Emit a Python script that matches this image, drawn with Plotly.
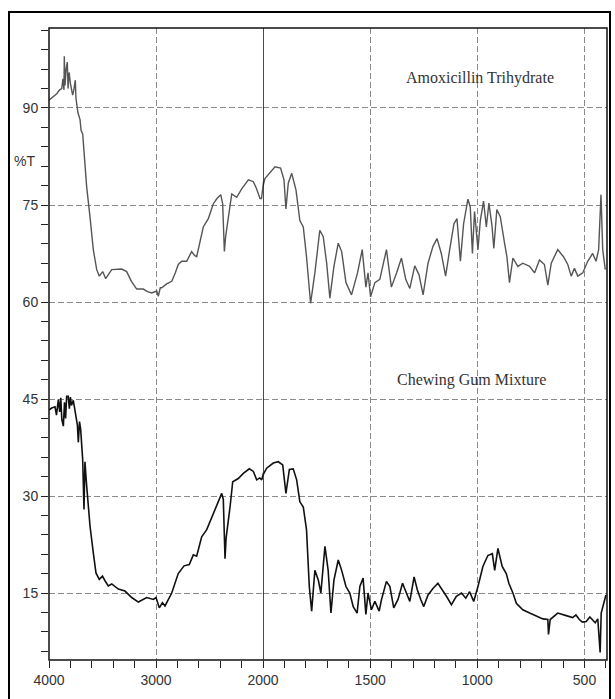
import plotly.graph_objects as go

# ---- data (wavenumber cm-1, %T) ----
amox_wn = [4000, 3960, 3928, 3900, 3881, 3870, 3860, 3857, 3850, 3840, 3829, 3822, 3812, 3800, 3790,
           3779, 3770, 3754, 3748, 3741, 3730, 3710, 3700, 3685, 3670, 3648, 3617, 3586, 3554, 3530,
           3498, 3470, 3414, 3370, 3321, 3274, 3230, 3180, 3119, 3080, 3040, 2993, 2978, 2960, 2947,
           2900, 2853, 2820, 2792, 2760, 2713, 2667, 2640, 2620, 2590, 2558, 2511, 2464, 2430, 2395,
           2377, 2361, 2350, 2339, 2320, 2292, 2246, 2199, 2137, 2090, 2060, 2028, 2014, 1991, 1944,
           1918, 1902, 1893, 1882, 1866, 1846, 1828, 1812, 1797, 1778, 1758, 1735, 1719, 1703, 1688,
           1669, 1649, 1633, 1613, 1587, 1559, 1537, 1520, 1510, 1498, 1478, 1455, 1424, 1401, 1377,
           1354, 1334, 1315, 1292, 1272, 1253, 1230, 1207, 1188, 1168, 1148, 1129, 1109, 1095, 1079,
           1064, 1044, 1033, 1023, 1013, 997, 986, 971, 958, 946, 932, 923, 909, 893, 873,
           862, 850, 834, 811, 788, 756, 733, 710, 687, 671, 655, 625, 598, 578, 562,
           547, 531, 508, 485, 462, 446, 434, 423, 415, 403]
amox_t = [91.2, 91.8, 92.2, 92.8, 93.0, 94.5, 92.8, 98.0, 93.5, 96.0, 97.1, 93.0, 95.5, 93.8, 92.8,
          92.0, 92.6, 94.3, 91.5, 90.2, 89.3, 88.2, 86.5, 86.0, 82.0, 77.8, 73.2, 68.1, 65.0, 64.0,
          64.7, 63.6, 65.0, 65.1, 65.1, 64.7, 63.2, 62.0, 62.0, 61.6, 61.4, 61.7, 60.9, 62.2, 62.2,
          62.8, 63.2, 64.5, 65.8, 66.3, 66.3, 67.8, 67.2, 67.0, 69.5, 71.6, 72.9, 75.2, 76.0, 76.6,
          75.2, 67.8, 70.0, 71.1, 73.5, 76.7, 76.2, 77.5, 78.9, 78.6, 77.5, 76.0, 76.0, 79.1, 80.9,
          80.7, 78.9, 74.4, 78.4, 79.9, 77.3, 72.6, 71.6, 67.0, 59.8, 64.5, 71.1, 70.1, 66.0, 60.6,
          65.5, 69.1, 67.8, 63.0, 61.1, 64.5, 68.1, 62.3, 64.5, 60.8, 63.0, 63.5, 68.1, 62.3, 64.5,
          66.8, 63.5, 62.1, 65.6, 64.2, 61.1, 66.0, 68.6, 69.8, 67.5, 64.0, 68.1, 72.1, 72.9, 66.3,
          72.1, 75.9, 74.7, 67.5, 74.0, 68.1, 72.6, 75.6, 71.6, 75.3, 71.9, 68.3, 74.3, 73.2, 69.1,
          67.0, 63.0, 66.8, 65.5, 66.0, 65.5, 64.5, 66.5, 65.8, 62.6, 66.0, 68.1, 67.0, 65.8, 64.0,
          65.2, 64.0, 64.5, 66.3, 67.5, 66.3, 68.1, 76.6, 68.1, 65.0]

gum_wn = [4000, 3975, 3944, 3930, 3913, 3900, 3890, 3880, 3866, 3855, 3845, 3835, 3820, 3810, 3800,
          3790, 3773, 3760, 3748, 3735, 3726, 3715, 3704, 3695, 3685, 3673, 3664, 3650, 3633, 3617,
          3586, 3561, 3530, 3500, 3477, 3446, 3414, 3352, 3290, 3227, 3165, 3120, 3087, 3025, 3000,
          2969, 2940, 2916, 2853, 2792, 2738, 2689, 2651, 2620, 2573, 2526, 2449, 2386, 2371, 2355,
          2345, 2333, 2308, 2283, 2231, 2184, 2128, 2090, 2059, 2030, 2012, 1983, 1952, 1929, 1908,
          1893, 1877, 1859, 1843, 1828, 1812, 1797, 1784, 1773, 1758, 1742, 1730, 1711, 1696, 1683,
          1669, 1649, 1633, 1613, 1595, 1579, 1561, 1548, 1533, 1520, 1510, 1494, 1478, 1458, 1447,
          1424, 1408, 1390, 1370, 1349, 1331, 1315, 1295, 1280, 1264, 1250, 1230, 1207, 1184, 1163,
          1144, 1121, 1098, 1074, 1054, 1036, 1017, 997, 974, 951, 930, 919, 904, 884, 865,
          853, 834, 818, 788, 756, 725, 694, 671, 668, 660, 625, 585, 555, 540, 524,
          510, 492, 475, 462, 450, 438, 427, 422, 407, 400]
gum_t = [43.3, 43.6, 43.8, 42.5, 44.9, 43.0, 45.2, 41.8, 40.8, 44.5, 42.0, 45.4, 45.4, 43.5, 45.3,
         44.0, 44.8, 43.5, 42.2, 41.0, 38.3, 41.5, 40.3, 38.0, 35.6, 27.9, 35.3, 32.0, 29.0, 25.4,
         21.2, 18.1, 17.1, 17.6, 16.9, 16.1, 16.4, 15.6, 15.3, 14.3, 13.6, 14.0, 14.3, 14.0, 14.3,
         12.7, 13.5, 13.0, 15.0, 18.0, 19.2, 19.4, 20.9, 20.7, 23.7, 24.8, 27.8, 30.4, 29.5, 20.3,
         23.5, 25.4, 28.3, 32.2, 32.7, 33.5, 34.2, 33.8, 32.5, 32.8, 32.5, 34.3, 35.1, 35.3, 34.8,
         30.4, 34.1, 34.2, 32.5, 29.1, 28.3, 24.8, 16.0, 12.2, 18.5, 17.0, 15.0, 22.2, 18.5, 11.9,
         17.0, 20.1, 18.5, 16.0, 15.0, 12.9, 11.9, 16.0, 17.3, 11.7, 15.0, 12.4, 13.7, 12.2, 14.0,
         16.8, 16.0, 12.7, 14.0, 16.5, 15.0, 13.7, 17.5, 15.5, 14.0, 12.9, 14.7, 15.7, 16.5, 15.5,
         14.5, 13.2, 14.5, 15.0, 14.2, 15.2, 13.7, 16.0, 19.1, 20.8, 21.1, 18.5, 21.9, 19.1, 18.0,
         16.5, 15.0, 13.4, 12.4, 11.9, 11.4, 11.0, 10.9, 8.6, 10.9, 11.9, 11.5, 11.2, 11.6, 10.9,
         10.5, 10.6, 11.3, 10.9, 10.4, 11.0, 5.8, 11.9, 14.0, 14.7]

y_ticks = [15, 30, 45, 60, 75, 90]
x_ticks_left = [4000, 3000]
x_ticks_right = [2000, 1500, 1000, 500]
labels = ["Amoxicillin Trihydrate", "Chewing Gum Mixture"]

SPLIT = 214 / 558

fig = go.Figure()
for xa in ["x", "x2"]:
    fig.add_trace(go.Scatter(x=amox_wn, y=amox_t, mode="lines", xaxis=xa, yaxis="y",
                             line=dict(color="#555555", width=1.4), showlegend=False,
                             hoverinfo="skip"))
    fig.add_trace(go.Scatter(x=gum_wn, y=gum_t, mode="lines", xaxis=xa, yaxis="y",
                             line=dict(color="#111111", width=1.6), showlegend=False,
                             hoverinfo="skip"))

tickfont = dict(family="Liberation Sans, Arial, sans-serif", size=14, color="#333333")
grid = dict(showgrid=True, gridcolor="#8a8a8a", gridwidth=1, griddash="6px,3px")

fig.update_layout(
    width=615, height=699,
    margin=dict(l=49, r=8, t=28, b=39),
    paper_bgcolor="white", plot_bgcolor="white",
    xaxis=dict(domain=[0, SPLIT], range=[4000, 2000], anchor="y",
               tickmode="array", tickvals=x_ticks_left, ticks="outside", ticklen=7,
               tickcolor="#222", tickwidth=1, tickfont=tickfont,
               minor=dict(dtick=200, tick0=0, ticks="outside", ticklen=7, tickcolor="#222", showgrid=False),
               showline=False, zeroline=False, **grid),
    xaxis2=dict(domain=[SPLIT, 1], range=[2000, 395], anchor="y",
                tickmode="array", tickvals=x_ticks_right, ticks="outside", ticklen=7,
                tickcolor="#222", tickwidth=1, tickfont=tickfont,
                minor=dict(dtick=100, tick0=0, ticks="outside", ticklen=7, tickcolor="#222", showgrid=False),
                showline=False, zeroline=False, **grid),
    yaxis=dict(range=[4.64, 102.37], tickmode="array", tickvals=y_ticks,
               ticks="outside", ticklen=7, tickcolor="#222", tickwidth=1, tickfont=tickfont,
               minor=dict(dtick=3, tick0=0, ticks="outside", ticklen=7, tickcolor="#222", showgrid=False),
               showline=False, zeroline=False, **grid),
)

# plot box
fig.add_shape(type="rect", xref="paper", yref="paper", x0=0, x1=1, y0=0, y1=1,
              line=dict(color="#111", width=1.5), layer="above")
# outer frame
fig.add_shape(type="rect", xref="paper", yref="paper",
              x0=(9 - 49) / 558, x1=(610 - 49) / 558, y0=(660 - 705) / 632, y1=(660 - 12) / 632,
              line=dict(color="#000", width=2), layer="above")
# split line at 2000
fig.add_shape(type="line", xref="x2", yref="paper", x0=2000, x1=2000, y0=0, y1=1,
              line=dict(color="#111", width=1.5), layer="above")

fig.add_annotation(text="%T", xref="paper", yref="y", x=(25 - 49) / 558, y=81.8,
                   showarrow=False, xanchor="center", yanchor="middle",
                   font=dict(family="Liberation Sans, Arial, sans-serif", size=14, color="#333"))
fig.add_annotation(text=labels[0], xref="x2", yref="y", x=986, y=94.6, showarrow=False,
                   font=dict(family="Liberation Serif, Times New Roman, serif", size=16, color="#333"))
fig.add_annotation(text=labels[1], xref="x2", yref="y", x=1028, y=47.9, showarrow=False,
                   font=dict(family="Liberation Serif, Times New Roman, serif", size=16, color="#333"))

fig.write_html("out.html", config={"displayModeBar": False})

# remove default page margin so the figure sits at the window origin
with open("out.html", "r", encoding="utf-8") as f:
    html = f.read()
html = html.replace("<head>", "<head><style>html,body{margin:0;padding:0;overflow:hidden;}</style>", 1)
with open("out.html", "w", encoding="utf-8") as f:
    f.write(html)
